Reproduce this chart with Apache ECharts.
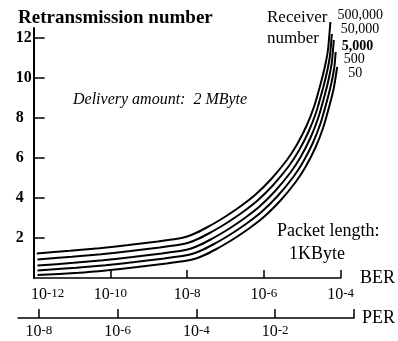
<!DOCTYPE html>
<html><head><meta charset="utf-8">
<script src="https://cdn.jsdelivr.net/npm/echarts@6/dist/echarts.min.js"></script>
<style>html,body{margin:0;padding:0;background:#fff}#c{width:398px;height:341px}</style>
</head><body><div id="c"></div>
<script>
// Receiver numbers (series names)
const receivers = ['500,000', '50,000', '5,000', '500', '50'];
// Curves as [log10(BER), retransmission number]
const curve500k = [[-11.92,1.225],[-11.057,1.36],[-10.293,1.49],[-9.529,1.65],[-8.764,1.825],[-8.255,1.96],[-8.0,2.075],[-7.745,2.275],[-7.49,2.525],[-7.236,2.8],[-6.981,3.1],[-6.599,3.6],[-6.217,4.175],[-5.809,4.95],[-5.401,5.9],[-5.146,6.65],[-4.892,7.6],[-4.688,8.6],[-4.51,9.8],[-4.408,10.6],[-4.331,11.4],[-4.268,12.8]];
const curve50k  = [[-11.90,0.93],[-11.006,1.06],[-10.242,1.19],[-9.478,1.35],[-8.713,1.525],[-8.204,1.66],[-7.949,1.775],[-7.694,1.975],[-7.439,2.225],[-7.185,2.5],[-6.930,2.8],[-6.548,3.3],[-6.166,3.875],[-5.758,4.65],[-5.350,5.6],[-5.095,6.35],[-4.841,7.3],[-4.637,8.3],[-4.459,9.5],[-4.357,10.3],[-4.280,11.1],[-4.230,12.2]];
const curve5k   = [[-11.90,0.62],[-10.955,0.76],[-10.191,0.89],[-9.427,1.05],[-8.662,1.225],[-8.153,1.36],[-7.898,1.475],[-7.643,1.675],[-7.388,1.925],[-7.134,2.2],[-6.879,2.5],[-6.497,3.0],[-6.115,3.575],[-5.707,4.35],[-5.299,5.3],[-5.044,6.05],[-4.790,7.0],[-4.586,8.0],[-4.408,9.2],[-4.306,10.0],[-4.229,10.8],[-4.179,11.9]];
const curve500  = [[-11.90,0.38],[-10.891,0.51],[-10.127,0.64],[-9.363,0.8],[-8.598,0.975],[-8.089,1.11],[-7.834,1.225],[-7.579,1.425],[-7.324,1.675],[-7.070,1.95],[-6.815,2.25],[-6.433,2.75],[-6.051,3.325],[-5.643,4.1],[-5.235,5.05],[-4.980,5.8],[-4.726,6.75],[-4.522,7.75],[-4.344,8.95],[-4.242,9.75],[-4.165,10.55],[-4.131,11.3]];
const curve50   = [[-11.90,0.15],[-10.828,0.26],[-10.064,0.39],[-9.300,0.55],[-8.535,0.725],[-8.026,0.86],[-7.771,0.975],[-7.516,1.175],[-7.261,1.425],[-7.007,1.7],[-6.752,2.0],[-6.370,2.5],[-5.988,3.075],[-5.580,3.85],[-5.172,4.8],[-4.917,5.55],[-4.663,6.5],[-4.459,7.5],[-4.281,8.7],[-4.179,9.5],[-4.091,10.55]];
const curves = [curve500k, curve50k, curve5k, curve500, curve50];
// Tick values
const yTicks = [2, 4, 6, 8, 10, 12];
const berTicks = [-12, -10, -8, -6, -4];
const perTicks = [-8, -6, -4, -2, 0];
const perLabels = [-8, -6, -4, -2];

const serif = '"Liberation Serif", "DejaVu Serif", serif';
const labelOffsets = [[7,-7],[9,-5],[8,6],[8,7],[11,6]];
const supRich = {
  b: {fontFamily: serif, fontSize: 16, lineHeight: 16, padding: [8,0,0,0], verticalAlign: 'bottom', color: '#000'},
  b0: {fontFamily: serif, fontSize: 16, lineHeight: 16, padding: [8,0,0,28], verticalAlign: 'bottom', color: '#000'},
  s: {fontFamily: serif, fontSize: 13, lineHeight: 13, verticalAlign: 'top', color: '#000'}
};
const expFmt = v => '{' + (v === -12 ? 'b0' : 'b') + '|10}{s|' + Math.round(v) + '}';

const chart = echarts.init(document.getElementById('c'), null, {renderer: 'canvas'});
chart.setOption({
  animation: false,
  backgroundColor: '#fff',
  title: {text: 'Retransmission number', left: 13, top: 4,
    textStyle: {fontFamily: serif, fontSize: 19, fontWeight: 'bold', color: '#000'}},
  grid: [
    {left: 33, right: 51, top: 28, bottom: 63},
    {left: 18, right: 43, top: 28, bottom: 23}
  ],
  xAxis: [
    {type: 'value', gridIndex: 0, min: -12, max: -4, position: 'bottom',
     name: 'BER', nameLocation: 'end', nameGap: 10,
     nameTextStyle: {fontFamily: serif, fontSize: 18, color: '#000'},
     axisLine: {show: true, lineStyle: {color: '#000', width: 1.5}},
     axisTick: {show: true, inside: true, length: 8, lineStyle: {color: '#000', width: 1.5}, customValues: berTicks},
     axisLabel: {show: true, margin: 9, customValues: berTicks, formatter: expFmt, rich: supRich},
     splitLine: {show: false}},
    {type: 'value', gridIndex: 1, min: -8.53, max: 0, position: 'bottom',
     name: 'PER', nameLocation: 'end', nameGap: 8,
     nameTextStyle: {fontFamily: serif, fontSize: 18, color: '#000'},
     axisLine: {show: true, lineStyle: {color: '#000', width: 1.5}},
     axisTick: {show: true, inside: true, length: 9, lineStyle: {color: '#000', width: 1.5}, customValues: perTicks},
     axisLabel: {show: true, margin: 6, customValues: perLabels, formatter: expFmt, rich: supRich},
     splitLine: {show: false}}
  ],
  yAxis: [
    {type: 'value', gridIndex: 0, min: 0, max: 12.5,
     axisLine: {show: true, lineStyle: {color: '#000', width: 2}},
     axisTick: {show: true, inside: true, length: 11, lineStyle: {color: '#000', width: 1.5}, customValues: yTicks},
     axisLabel: {show: true, margin: 18, align: 'left', customValues: yTicks,
       fontFamily: serif, fontSize: 16, fontWeight: 'bold', color: '#000'},
     splitLine: {show: false}},
    {type: 'value', gridIndex: 1, show: false, min: 0, max: 1}
  ],
  graphic: [
    {type: 'text', left: 73, top: 92, style: {text: 'Delivery amount:  2 MByte', fontFamily: serif, fontSize: 16, fontStyle: 'italic', fill: '#000'}},
    {type: 'text', left: 267, top: 7, style: {text: 'Receiver\nnumber', fontFamily: serif, fontSize: 17, lineHeight: 21, fill: '#000'}},
    {type: 'text', left: 277, top: 222, style: {text: 'Packet length:', fontFamily: serif, fontSize: 18, fill: '#000'}},
    {type: 'text', left: 289, top: 245, style: {text: '1KByte', fontFamily: serif, fontSize: 18, fill: '#000'}}
  ],
  series: curves.map((d, i) => ({
    type: 'line', name: receivers[i], xAxisIndex: 0, yAxisIndex: 0,
    data: d, smooth: 0.2, symbol: 'none', clip: false,
    lineStyle: {color: '#000', width: 2},
    endLabel: {show: true, formatter: '{a}', distance: 0, offset: labelOffsets[i],
      align: 'left', verticalAlign: 'middle',
      fontFamily: serif, fontSize: 14, fontWeight: i === 2 ? 'bold' : 'normal', color: '#000'}
  }))
});
</script></body></html>
